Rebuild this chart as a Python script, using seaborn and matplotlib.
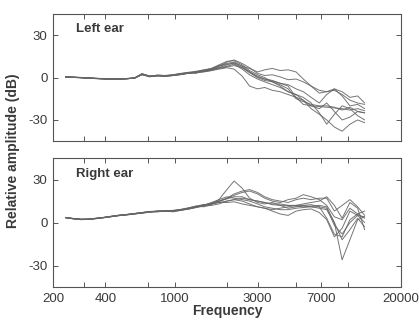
import matplotlib
matplotlib.use("Agg")
import matplotlib.pyplot as plt
from matplotlib.ticker import FixedLocator, FixedFormatter, NullLocator
import numpy as np
import pandas as pd
import seaborn as sns

# Frequency grid (Hz) shared by all measured transfer functions
freq = [236, 260, 290, 320, 350, 390, 430, 480, 530, 590, 650, 720, 800, 880,
        980, 1080, 1200, 1330, 1470, 1630, 1800, 2000, 2200, 2450, 2700, 3000,
        3300, 3650, 4050, 4500, 5000, 5500, 6100, 6800, 7500, 8300, 9200,
        10200, 11300, 12400]

# Left ear, relative amplitude (dB), one list per subject
left_s1 = [0.5, 0.3, 0.1, -0.2, -0.4, -0.7, -0.9, -1.0, -0.7, -0.2, 2.8, 1.0, 1.8, 1.5,
           2.0, 2.8, 3.5, 3.0, 5.0, 6.0, 7.0, 9.0, 10.5, 8.0, 6.5, 4.0, 5.5, 6.5, 5.0, 5.5,
           4.0, -1.0, -6.0, -11.0, -10.0, -9.0, -12.0, -16.0, -18.0, -19.0]
left_s2 = [0.3, 0.2, 0.0, -0.3, -0.6, -0.9, -1.1, -1.0, -0.8, -0.4, 2.2, 0.6, 1.3, 1.0,
           1.5, 2.5, 3.0, 3.8, 4.5, 5.5, 8.0, 11.0, 12.5, 10.0, 7.0, 3.0, 1.5, 2.0, 0.5, -1.5,
           -1.0, -3.0, -6.0, -9.0, -10.0, -8.0, -10.0, -14.0, -13.0, -18.0]
left_s3 = [0.4, 0.2, -0.1, -0.4, -0.6, -0.8, -1.0, -1.1, -0.9, -0.3, 2.0, 0.8, 1.2, 0.9,
           1.5, 2.0, 3.2, 3.5, 4.0, 5.0, 6.0, 7.0, 6.0, 1.0, -6.0, -8.0, -7.0, -9.0, -10.0, -12.0,
           -14.0, -16.0, -20.0, -22.0, -18.0, -24.0, -30.0, -28.0, -24.0, -25.0]
left_s4 = [0.6, 0.4, 0.1, -0.2, -0.5, -0.8, -1.0, -0.9, -0.6, -0.1, 2.6, 1.1, 1.7, 1.4,
           2.0, 3.0, 3.5, 4.5, 5.5, 6.5, 8.5, 10.0, 11.0, 8.0, 4.0, 0.5, -1.0, -2.5, -4.0, -6.0,
           -14.0, -19.0, -20.0, -20.5, -21.0, -21.5, -22.0, -23.0, -22.0, -23.5]
left_s5 = [0.5, 0.3, 0.0, -0.3, -0.6, -0.9, -1.2, -1.1, -0.8, -0.2, 2.4, 1.2, 1.6, 1.3,
           1.8, 2.6, 3.8, 4.0, 5.2, 6.0, 8.0, 9.5, 10.0, 7.0, 3.5, 0.0, -2.0, -3.0, -5.0, -8.0,
           -15.0, -17.0, -19.0, -20.0, -20.0, -21.0, -23.0, -21.0, -24.0, -25.0]
left_s6 = [0.4, 0.3, 0.0, -0.4, -0.7, -0.9, -1.0, -1.0, -0.7, -0.3, 2.7, 0.9, 1.4, 1.1,
           1.6, 2.2, 3.0, 3.8, 4.8, 5.5, 7.0, 8.0, 9.5, 6.0, 2.0, -1.0, -3.0, -5.0, -7.0, -10.0,
           -12.0, -14.0, -18.0, -25.0, -33.0, -26.0, -20.0, -22.0, -27.0, -30.0]
left_s7 = [0.5, 0.2, -0.1, -0.3, -0.5, -0.8, -1.0, -1.0, -0.8, -0.3, 2.3, 0.7, 1.5, 1.2,
           1.8, 2.4, 3.4, 4.0, 5.0, 6.5, 9.0, 11.5, 12.0, 9.0, 5.0, 2.0, 0.0, -3.0, -6.0, -10.0,
           -12.0, -16.0, -22.0, -26.0, -30.0, -35.0, -38.0, -33.0, -30.0, -32.0]
left_s8 = [0.3, 0.1, -0.2, -0.5, -0.7, -1.0, -1.2, -1.1, -0.9, -0.4, 2.1, 0.6, 1.2, 0.9,
           1.4, 2.2, 3.0, 3.5, 4.2, 5.0, 6.5, 7.5, 8.5, 7.0, 4.0, 1.0, -1.0, -2.0, -4.0, -5.0,
           -8.0, -10.0, -14.0, -18.0, -12.0, -8.0, -13.0, -20.0, -19.0, -22.0]

# Right ear, relative amplitude (dB), one list per subject
right_s1 = [3.6, 2.9, 2.3, 2.4, 3.0, 3.6, 4.3, 5.1, 5.6, 6.3, 7.0, 7.8, 7.5, 8.2,
            7.5, 8.5, 10.0, 11.5, 11.0, 12.5, 16.0, 23.0, 29.0, 24.0, 17.0, 14.0, 13.0, 14.0, 12.0, 10.0,
            11.0, 12.0, 12.5, 11.0, 3.0, -8.0, -10.0, 2.0, 6.0, 8.0]
right_s2 = [3.4, 2.7, 2.1, 2.2, 2.7, 3.4, 4.1, 4.9, 5.4, 6.1, 6.7, 7.4, 8.0, 7.8,
            8.0, 8.8, 9.8, 11.0, 12.0, 13.5, 15.0, 17.0, 19.0, 21.0, 22.0, 20.0, 17.0, 15.0, 14.0, 16.0,
            17.0, 19.5, 18.0, 16.0, 12.0, 4.0, 2.0, 10.0, 6.0, 3.0]
right_s3 = [3.5, 2.8, 2.2, 2.3, 2.8, 3.5, 4.2, 5.0, 5.5, 6.2, 6.8, 7.5, 7.8, 8.0,
            8.2, 8.6, 9.3, 10.5, 11.8, 13.0, 14.5, 17.0, 20.0, 22.0, 23.0, 21.0, 18.0, 16.0, 15.0, 14.0,
            16.0, 17.0, 16.0, 17.0, 17.0, 8.0, 12.0, 16.0, 11.0, 5.0]
right_s4 = [3.3, 2.6, 2.0, 2.2, 2.6, 3.3, 4.0, 4.8, 5.3, 6.0, 6.6, 7.2, 7.6, 7.8,
            7.8, 8.4, 9.5, 11.0, 12.5, 13.0, 14.0, 15.0, 16.0, 17.0, 16.0, 15.0, 14.0, 12.5, 12.0, 12.0,
            11.5, 11.0, 11.5, 12.0, 11.0, 0.0, -26.0, -12.0, 2.0, 4.0]
right_s5 = [3.6, 2.9, 2.4, 2.5, 2.9, 3.6, 4.4, 5.2, 5.7, 6.4, 7.0, 7.7, 8.1, 8.3,
            8.5, 9.0, 10.0, 11.0, 12.0, 14.0, 16.0, 18.0, 17.0, 16.0, 15.0, 13.0, 11.0, 10.0, 9.0, 9.0,
            10.0, 10.5, 11.0, 10.0, 9.0, 0.0, -12.0, -5.0, 3.0, -3.0]
right_s6 = [3.4, 2.7, 2.2, 2.3, 2.8, 3.4, 4.1, 4.9, 5.4, 6.0, 6.6, 7.3, 7.7, 7.9,
            8.0, 8.8, 9.5, 10.5, 11.5, 12.0, 13.0, 15.0, 16.0, 15.0, 13.0, 11.0, 10.0, 8.0, 6.0, 5.0,
            8.0, 9.0, 9.5, 7.0, 2.0, -10.0, -4.0, 8.0, 5.0, 0.0]
right_s7 = [3.5, 2.8, 2.3, 2.4, 2.9, 3.5, 4.2, 5.0, 5.5, 6.2, 6.8, 7.5, 7.9, 8.1,
            8.3, 8.9, 9.8, 11.0, 12.0, 13.5, 15.0, 16.5, 18.0, 18.0, 16.0, 15.0, 14.0, 13.0, 13.0, 12.0,
            12.0, 12.0, 11.0, 11.0, 10.0, -2.0, -8.0, 0.0, 5.0, 4.0]
right_s8 = [3.5, 2.8, 2.2, 2.3, 2.8, 3.5, 4.3, 5.1, 5.6, 6.3, 6.9, 7.6, 8.0, 8.2,
            8.4, 9.2, 10.3, 11.5, 12.5, 13.0, 14.0, 14.0, 14.5, 13.0, 12.0, 11.0, 10.0, 9.0, 10.0, 11.0,
            12.0, 13.0, 14.0, 15.0, 18.0, 12.0, 3.0, 14.0, 10.0, -5.0]

panel_titles = ["Left ear", "Right ear"]
x_tick_values = [200, 300, 400, 700, 1000, 2000, 3000, 5000, 7000, 10000, 20000]
x_tick_labels = ["200", "", "400", "", "1000", "", "3000", "", "7000", "", "20000"]
y_tick_values = [-30, 0, 30]
y_tick_labels = ["-30", "0", "30"]

left_curves = [left_s1, left_s2, left_s3, left_s4, left_s5, left_s6, left_s7, left_s8]
right_curves = [right_s1, right_s2, right_s3, right_s4, right_s5, right_s6, right_s7, right_s8]


def to_long(curves, ear):
    rows = []
    for i, vals in enumerate(curves):
        for f, v in zip(freq, vals):
            rows.append({"ear": ear, "subject": i, "freq": f, "db": v})
    return rows


df = pd.DataFrame(to_long(left_curves, panel_titles[0]) + to_long(right_curves, panel_titles[1]))

sns.set_theme(style="white")
plt.rcParams["font.family"] = ["Liberation Sans", "DejaVu Sans"]
text_color = "#3a3a3a"
line_color = "#666666"

fig = plt.figure(figsize=(4.19, 3.20), dpi=100)
fig.patch.set_facecolor("white")
ax_top = fig.add_axes([0.1265, 0.559, 0.830, 0.397])
ax_bot = fig.add_axes([0.1265, 0.103, 0.830, 0.403])

for ax, title in zip([ax_top, ax_bot], panel_titles):
    sub = df[df["ear"] == title]
    sns.lineplot(data=sub, x="freq", y="db", units="subject", estimator=None,
                 color=line_color, lw=0.7, alpha=0.9, ax=ax, legend=False)
    ax.set_xscale("log")
    ax.set_xlim(200, 20000)
    ax.set_ylim(-45, 45)
    ax.xaxis.set_major_locator(FixedLocator(x_tick_values))
    ax.xaxis.set_minor_locator(NullLocator())
    ax.set_yticks(y_tick_values)
    ax.set_yticklabels(y_tick_labels)
    ax.tick_params(direction="in", length=3.5, width=0.7, colors="#555555",
                   top=True, right=True, bottom=True, left=True,
                   labelsize=9.5, labelcolor=text_color, pad=4)
    for s in ax.spines.values():
        s.set_color("#555555")
        s.set_linewidth(0.8)
    ax.set_xlabel("")
    ax.set_ylabel("")
    ax.text(0.067, 0.88, title, transform=ax.transAxes, fontsize=9.5,
            fontweight="bold", color=text_color, ha="left", va="center")

ax_top.xaxis.set_major_formatter(FixedFormatter([""] * len(x_tick_values)))
ax_bot.xaxis.set_major_formatter(FixedFormatter(x_tick_labels))

fig.text(0.542, 0.028, "Frequency", ha="center", va="center", fontsize=10,
         fontweight="bold", color=text_color)
fig.text(0.03, 0.53, "Relative amplitude (dB)", ha="center", va="center",
         rotation=90, fontsize=10, fontweight="bold", color=text_color)

fig.savefig("out.png", dpi=100, facecolor="white")
